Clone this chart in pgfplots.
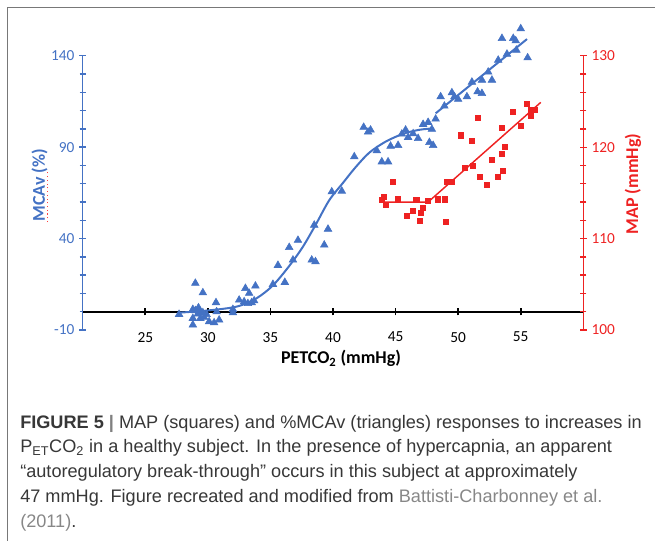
\documentclass[border=0pt]{standalone}
\usepackage{fontspec}
\setmainfont{Carlito}
\newfontfamily\capfont{Liberation Sans}
\usepackage{pgfplots}
\pgfplotsset{compat=1.18}
\definecolor{mblue}{RGB}{68,114,196}
\definecolor{mred}{RGB}{238,34,34}
\definecolor{capgray}{RGB}{55,55,55}
\definecolor{linkgray}{RGB}{135,135,135}
\definecolor{framegray}{RGB}{120,120,120}

\begin{document}
\begin{tikzpicture}
\useasboundingbox (0,0) rectangle (491.25pt,-405pt);
\begin{scope}[x=0.75pt,y=-0.75pt]
\draw[framegray, line width=0.8pt] (7.5,541) -- (7.5,7.5) -- (656,7.5);
\node[rotate=90, font=\fontsize{13.5}{16}\selectfont\bfseries, text=mblue] at (39.5,185) {MCAv (\%)};
\draw[red!75, dotted, line width=0.8pt] (47.5,222) -- (47.5,171);
\node[rotate=90, font=\fontsize{13.5}{16}\selectfont\bfseries, text=mred] at (633,184) {MAP (mmHg)};
\node[font=\fontsize{13.5}{16}\selectfont\bfseries] at (341,358) {PETCO\textsubscript{2} (mmHg)};
\begin{scope}[every node/.style={anchor=base west, inner sep=0pt, font=\capfont\fontsize{13.6}{18}\selectfont, text=capgray}]
\node at (20,428) {\textbf{FIGURE 5} {\color{gray}\textbf{|}} MAP (squares) and \%MCAv (triangles) responses to increases in};
\node at (20,452.75) {P\textsubscript{ET}CO\textsubscript{2} in a healthy subject. In the presence of hypercapnia, an apparent};
\node at (20,477.5) {“autoregulatory break-through” occurs in this subject at approximately};
\node at (20,502.25) {47 mmHg. Figure recreated and modified from {\color{linkgray}Battisti-Charbonney et al.}};
\node at (20,527) {{\color{linkgray}(2011)}.};
\end{scope}
\end{scope}

\begin{axis}[
  at={(62.03pt,-247.5pt)}, anchor=south west,
  scale only axis, width=375.45pt, height=205.7pt,
  xmin=20, xmax=60, ymin=-10, ymax=140,
  axis x line*=middle, axis y line*=left,
  clip=false,
  xtick={25,30,35,40,45,50,55},
  ytick={-10,40,90,140},
  minor y tick num=4,
  tick align=center,
  major tick length=5.5pt, minor tick length=4.5pt,
  x axis line style={black, line width=1.4pt},
  y axis line style={mblue, line width=1pt},
  xtick style={black, line width=1.2pt},
  ytick style={mblue, line width=1pt},
  xticklabel style={font=\fontsize{11.5}{13}\selectfont, text=black, yshift=-9pt},
  yticklabel style={font=\fontsize{11.5}{13}\selectfont, text=mblue},
  /pgf/number format/assume math mode=true,
]
\addplot[only marks, mark=triangle*, mark size=3.3pt, mblue] coordinates {
(27.7,-1.4)(29.0,15.6)(29.6,10.4)(28.8,1.3)(29.0,0.6)(29.25,2.2)(29.3,0.0)
(29.2,-1.2)(29.6,-0.5)(28.8,-3.6)(29.4,-3.6)(29.7,-3.0)(28.8,-7.2)(30.1,-5.4)
(30.5,-6.0)(30.9,-4.5)(30.65,5.0)(30.7,0.0)(29.9,-1.5)(32.0,1.3)(32.0,-0.5)
(32.5,6.4)(33.0,12.8)(33.3,10.1)(33.8,14.1)(32.9,5.5)(33.2,4.5)(33.5,5.0)
(33.7,6.0)(35.2,15.0)(35.6,25.4)(36.15,16.1)(36.5,35.2)(36.8,28.3)(37.2,39.1)
(38.3,28.3)(38.6,27.4)(38.5,47.4)(39.3,36.5)(39.6,45.2)(39.9,65.6)(40.7,66.0)
(41.7,84.8)(42.45,100.9)(42.8,98.3)(43.0,99.4)(43.5,88.1)(43.9,82.0)(44.4,82.0)
(44.6,90.6)(45.2,91.0)(45.5,97.2)(45.8,99.4)(46.0,95.4)(46.4,97.4)(46.8,94.8)
(47.2,102.5)(47.6,103.6)(47.9,99.8)(47.7,92.6)(48.0,91.0)(48.2,105.4)(48.6,117.6)
(48.9,112.5)(49.5,119.8)(49.7,117.6)(50.0,116.2)(50.7,117.6)(51.1,125.6)(51.55,120.3)
(51.9,126.7)(51.9,119.4)(52.4,131.1)(52.7,126.7)(53.2,137.6)(53.5,149.5)(53.9,140.9)
(54.4,149.5)(54.6,148.2)(54.65,143.1)(55.0,154.8)(55.55,138.9)
};
\addplot[smooth, mblue, line width=1.5pt] coordinates {
(27.7,-0.5)(29.9,0.6)(32.3,2.8)(33.9,7.4)(35.2,14.4)(36.5,25.0)(37.6,35.6)
(38.65,48.0)(39.7,61.0)(40.8,70.5)(41.8,79.0)(42.9,87.0)(44.2,93.0)(45.6,97.3)
(46.9,99.5)(47.9,100.2)
};
\addplot[mblue, line width=1.5pt] coordinates {(48.2,108.5)(55.5,149.1)};
\end{axis}

\begin{axis}[
  at={(62.03pt,-247.5pt)}, anchor=south west,
  scale only axis, width=375.45pt, height=205.7pt,
  xmin=20, xmax=60, ymin=100, ymax=130,
  axis x line=none, axis y line*=right,
  clip=false,
  xtick=\empty,
  ytick={100,110,120,130},
  minor y tick num=4,
  tick align=center,
  major tick length=5.5pt, minor tick length=4.5pt,
  y axis line style={mred, line width=1pt},
  ytick style={mred, line width=1pt},
  yticklabel style={font=\fontsize{11.5}{13}\selectfont, text=mred},
  /pgf/number format/assume math mode=true,
]
\addplot[mred, line width=1.1pt] coordinates {(43.9,114.0)(47.6,114.0)(56.6,124.9)};
\addplot[only marks, mark=square*, mark size=1.9pt, mred] coordinates {
(43.9,114.2)(44.05,114.6)(44.2,113.75)(44.8,116.2)(45.15,114.3)(45.9,112.5)
(46.4,113.0)(46.65,114.2)(46.9,111.9)(47.0,112.8)(47.2,113.4)(47.6,114.1)
(48.4,114.3)(48.9,114.3)(49.0,111.8)(49.1,116.2)(49.5,116.2)(50.2,121.3)
(50.5,117.7)(51.1,120.7)(51.2,118.0)(51.6,123.2)(51.7,116.8)(52.3,115.9)
(52.7,118.6)(53.2,116.8)(53.5,122.1)(53.5,119.3)(53.55,117.4)(53.7,120.0)
(54.35,123.9)(55.0,122.3)(55.5,124.7)(55.8,124.1)(55.8,123.4)(56.1,124.1)
};
\end{axis}
\end{tikzpicture}
\end{document}
